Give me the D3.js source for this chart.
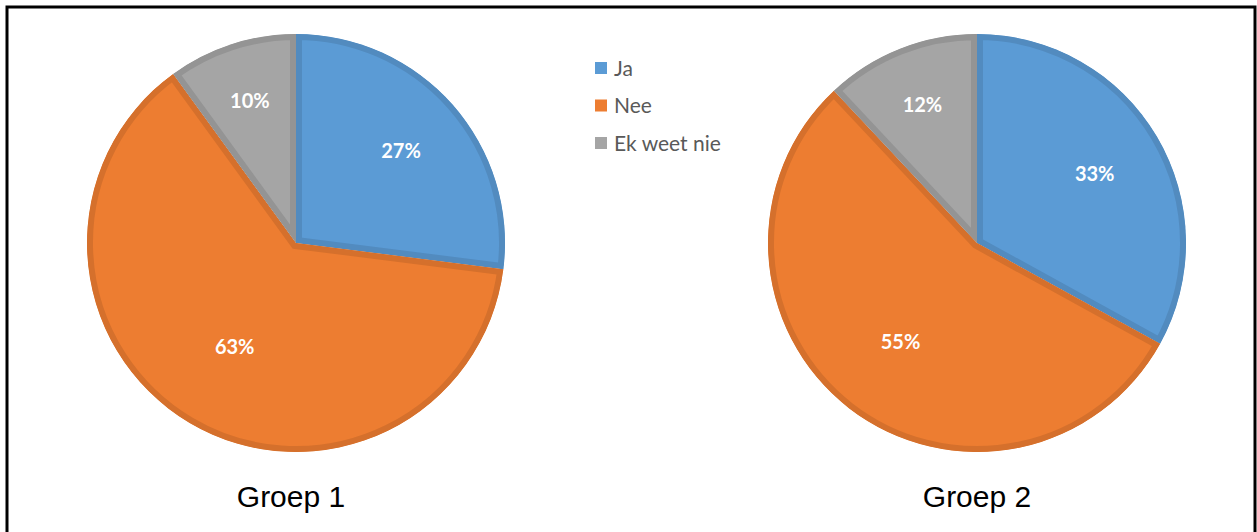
<!DOCTYPE html>
<html>
<head>
<meta charset="utf-8">
<script src="https://cdn.jsdelivr.net/npm/d3@7"></script>
<style>
  html, body { margin: 0; padding: 0; background: #fff; }
  svg { display: block; }
</style>
</head>
<body>
<svg id="chart" width="1257" height="532"></svg>
<script>
// Answer categories and the share of each group that gave them (percent)
const categories = ["Ja", "Nee", "Ek weet nie"];
const groupNames = ["Groep 1", "Groep 2"];
const groep1 = [27, 63, 10];
const groep2 = [33, 55, 12];
const sliceColors = ["#5b9bd5", "#ed7d31", "#a5a5a5"];

const svg = d3.select("#chart");

// Frame round the whole figure
svg.append("rect")
  .attr("x", 7).attr("y", 7)
  .attr("width", 1248).attr("height", 540)
  .attr("fill", "none").attr("stroke", "#000").attr("stroke-width", 3);

const radius = 209;
const border = 6;
const color = d3.scaleOrdinal().domain(categories).range(sliceColors);
const pie = d3.pie().sort(null).value(d => d.value);
const arc = d3.arc().innerRadius(0).outerRadius(radius);

// Labels of big slices sit nearer the centre, small ones nearer the rim
function labelPos(d) {
  const frac = (d.endAngle - d.startAngle) / (2 * Math.PI);
  const r = radius * (0.74 - 0.26 * frac);
  return d3.arc().innerRadius(r).outerRadius(r).centroid(d);
}

const cx = d3.scalePoint().domain(groupNames).range([296, 977]);
const titleX = d3.scalePoint().domain(groupNames).range([291, 977]);
const cy = 243;

function drawPie(name, values, idx) {
  const data = categories.map((c, i) => ({ cat: c, value: values[i] }));
  const g = svg.append("g").attr("transform", `translate(${cx(name)},${cy})`);
  const arcs = pie(data);

  const defs = svg.append("defs");
  arcs.forEach((a, i) => {
    defs.append("clipPath").attr("id", `clip-${idx}-${i}`)
      .append("path").attr("d", arc(a));
  });

  // Each slice carries its own darker edge, kept inside the slice
  g.selectAll("path.slice")
    .data(arcs)
    .join("path")
    .attr("class", "slice")
    .attr("d", arc)
    .attr("fill", d => color(d.data.cat))
    .attr("stroke", d => d3.color(color(d.data.cat)).darker(0.3))
    .attr("stroke-width", border * 2)
    .attr("stroke-linejoin", "miter")
    .attr("clip-path", (d, i) => `url(#clip-${idx}-${i})`);

  g.selectAll("text.pct")
    .data(arcs)
    .join("text")
    .attr("class", "pct")
    .attr("transform", d => `translate(${labelPos(d)})`)
    .attr("text-anchor", "middle")
    .attr("dy", "0.36em")
    .attr("fill", "#fff")
    .attr("font-family", "Lato, 'Open Sans', sans-serif")
    .attr("font-weight", "bold")
    .attr("font-size", 20)
    .text(d => d.data.value + "%");

  svg.append("text")
    .attr("x", titleX(name)).attr("y", 507)
    .attr("text-anchor", "middle")
    .attr("font-family", "'Liberation Sans', Arial, sans-serif")
    .attr("font-size", 30)
    .attr("fill", "#000")
    .text(name);
}

drawPie("Groep 1", groep1, 0);
drawPie("Groep 2", groep2, 1);

// Legend
const legendY = d3.scalePoint().domain(categories).range([68, 143]);
const legend = svg.append("g");
const item = legend.selectAll("g").data(categories).join("g")
  .attr("transform", d => `translate(595,${legendY(d)})`);
item.append("rect")
  .attr("x", 0).attr("y", -6).attr("width", 12).attr("height", 12)
  .attr("fill", d => color(d));
item.append("text")
  .attr("x", 19).attr("dy", "0.36em")
  .attr("font-family", "Lato, 'Open Sans', sans-serif")
  .attr("font-size", 21)
  .attr("fill", "#595959")
  .text(d => d);
</script>
</body>
</html>
